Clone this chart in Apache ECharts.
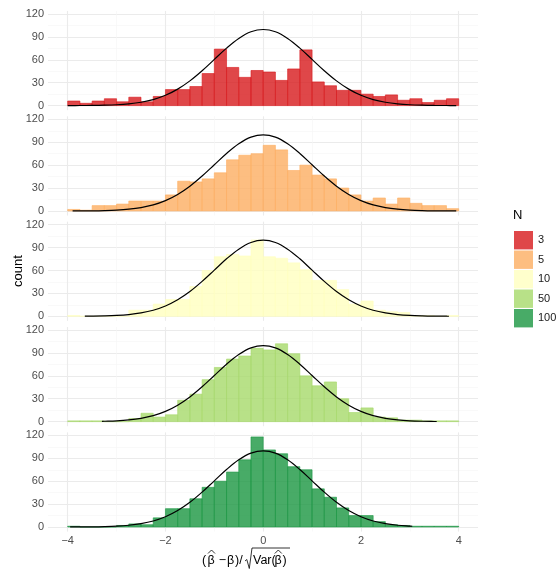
<!DOCTYPE html>
<html>
<head>
<meta charset="utf-8">
<script src="https://cdn.jsdelivr.net/npm/echarts@6/dist/echarts.min.js"></script>
<style>
  html, body { margin: 0; padding: 0; background: #fff; }
  #chart { width: 558px; height: 576px; }
</style>
</head>
<body>
<div id="chart"></div>
<script>
// bin edges of the histogram (width 0.25)
const binEdges = [-4, -3.75, -3.5, -3.25, -3, -2.75, -2.5, -2.25, -2, -1.75, -1.5, -1.25, -1, -0.75, -0.5, -0.25,
  0, 0.25, 0.5, 0.75, 1, 1.25, 1.5, 1.75, 2, 2.25, 2.5, 2.75, 3, 3.25, 3.5, 3.75, 4];

const groups = ['3', '5', '10', '50', '100'];

// counts per bin, one array per N
const countsN3 = [6, 3, 6, 9, 5, 11, 5, 12, 21, 21, 25, 42, 74, 50, 37, 46,
  44, 33, 48, 73, 31, 26, 20, 20, 15, 12, 14, 7, 9, 4, 7, 9];
const countsN5 = [2, 1, 7, 7, 9, 13, 13, 13, 21, 39, 38, 42, 50, 67, 73, 75,
  86, 80, 53, 60, 47, 42, 30, 21, 13, 17, 9, 17, 10, 7, 7, 3];
const countsN10 = [1, 0, 0, 0, 0, 8, 8, 16, 22, 22, 39, 60, 78, 81, 79, 100,
  78, 76, 70, 61, 47, 47, 35, 16, 20, 8, 6, 5, 1, 1, 0, 1];
const countsN50 = [1, 1, 1, 0, 0, 4, 11, 6, 9, 28, 36, 55, 71, 82, 86, 96,
  94, 102, 89, 60, 47, 52, 30, 12, 18, 6, 5, 2, 2, 1, 1, 1];
const countsN100 = [1, 0, 0, 0, 2, 4, 3, 12, 24, 24, 37, 52, 60, 72, 88, 118,
  101, 96, 79, 75, 50, 39, 25, 15, 15, 7, 3, 2, 1, 1, 1, 1];
const allCounts = [countsN3, countsN5, countsN10, countsN50, countsN100];

// reference normal curve, read at the bin edges
const curveY = [0.0, 0.1, 0.2, 0.5, 1.1, 2.3, 4.4, 7.9, 13.5, 21.6, 32.4, 45.7, 60.5, 75.3, 88.0, 96.7,
  99.7, 96.7, 88.0, 75.3, 60.5, 45.7, 32.4, 21.6, 13.5, 7.9, 4.4, 2.3, 1.1, 0.5, 0.2, 0.1, 0.0];
// where the curve starts and stops in each panel
const curveFrom = [-4, -3.9, -3.65, -3.3, -3.95];
const curveFromY = [0.0, 0.05, 0.13, 0.43, 0.04];
const curveTo = [3.95, 3.95, 3.8, 3.55, 3.05];
const curveToY = [0.04, 0.04, 0.07, 0.18, 0.95];

const yTicks = [0, 30, 60, 90, 120];
const xTicks = [-4, -2, 0, 2, 4];

const fills = ['rgba(215,25,28,0.8)', 'rgba(253,174,97,0.8)', 'rgba(255,255,191,0.8)', 'rgba(166,217,106,0.8)', 'rgba(26,150,65,0.8)'];
const strokes = ['#d7191c', '#fdae61', '#ffffbf', '#a6d96a', '#1a9641'];

const FONT = '"Liberation Sans", Arial, sans-serif';
const panelTop = 14;
const panelPitch = 105.35;
const panelH = 91.6;
const pxPerCount = panelH / 120;

const chart = echarts.init(document.getElementById('chart'));

const grid = [], xAxis = [], yAxis = [], series = [];

groups.forEach((name, i) => {
  const y120 = panelTop + i * panelPitch;
  // background grid: horizontal gridlines and y labels
  grid.push({ left: 48, top: y120, width: 430, height: panelH });
  // data grid: bars, curve, vertical gridlines
  grid.push({ left: 67.7, top: y120 - 4 * pxPerCount, width: 391, height: 130 * pxPerCount });

  xAxis.push({ gridIndex: 2 * i, type: 'value', min: 0, max: 1, show: false });
  yAxis.push({
    gridIndex: 2 * i, type: 'value', min: yTicks[0], max: yTicks[yTicks.length - 1], interval: 30,
    axisLine: { show: false }, axisTick: { show: false },
    axisLabel: { color: '#4d4d4d', fontSize: 11, fontFamily: FONT, margin: 4 },
    splitLine: { lineStyle: { color: '#ebebeb', width: 1.1 } },
    minorTick: { show: false, splitNumber: 2 },
    minorSplitLine: { show: true, lineStyle: { color: '#f5f5f5', width: 0.6 } }
  });

  xAxis.push({
    gridIndex: 2 * i + 1, type: 'value', min: xTicks[0], max: xTicks[xTicks.length - 1], interval: 2,
    axisLine: { show: false }, axisTick: { show: false },
    axisLabel: {
      show: i === groups.length - 1, color: '#4d4d4d', fontSize: 11, fontFamily: FONT, margin: 4,
      formatter: (v) => String(v).replace('-', '\u2212')
    },
    splitLine: { lineStyle: { color: '#ebebeb', width: 1.1 } },
    minorTick: { show: false, splitNumber: 2 },
    minorSplitLine: { show: true, lineStyle: { color: '#f5f5f5', width: 0.6 } }
  });
  yAxis.push({ gridIndex: 2 * i + 1, type: 'value', min: -6, max: 124, show: false });

  const fill = fills[i], stroke = strokes[i];
  series.push({
    name: name,
    type: 'custom',
    xAxisIndex: 2 * i + 1,
    yAxisIndex: 2 * i + 1,
    itemStyle: { color: fill },
    encode: { x: [0, 1], y: 2 },
    data: allCounts[i].map((c, k) => [binEdges[k], binEdges[k + 1], c]),
    renderItem: (params, api) => {
      const p0 = api.coord([api.value(0), 0]);
      const p1 = api.coord([api.value(1), api.value(2)]);
      return {
        type: 'rect',
        shape: { x: p0[0], y: p1[1], width: p1[0] - p0[0], height: p0[1] - p1[1] },
        style: { fill: fill, stroke: stroke, lineWidth: 0.6 }
      };
    },
    silent: true,
    z: 2
  });

  const pts = [[curveFrom[i], curveFromY[i]]];
  binEdges.forEach((x, k) => {
    if (x > curveFrom[i] && x < curveTo[i]) pts.push([x, curveY[k]]);
  });
  pts.push([curveTo[i], curveToY[i]]);
  series.push({
    type: 'line',
    xAxisIndex: 2 * i + 1,
    yAxisIndex: 2 * i + 1,
    data: pts,
    showSymbol: false,
    smooth: 0.35,
    lineStyle: { color: '#000', width: 1.2 },
    silent: true,
    z: 5
  });
});

// x-axis title pieces: (β̂ − β)/√Var(β̂)
function txt(s, x, align) {
  return {
    type: 'text', x: x, y: 561,
    style: { text: s, font: '12.5px ' + FONT, fill: '#000', textAlign: align || 'left', textVerticalAlign: 'middle' }
  };
}
function hat(cx) {
  return { type: 'polyline', shape: { points: [[cx - 3.5, 553.5], [cx, 550], [cx + 3.5, 553.5]] }, style: { stroke: '#000', lineWidth: 0.8, fill: null } };
}

chart.setOption({
  backgroundColor: '#fff',
  animation: false,
  grid, xAxis, yAxis, series,
  legend: {
    orient: 'vertical',
    left: 514,
    top: 231,
    padding: 0,
    itemWidth: 19,
    itemHeight: 18.4,
    itemGap: 1.1,
    selectedMode: false,
    icon: 'rect',
    data: groups,
    textStyle: { fontSize: 11, fontFamily: FONT, color: '#1a1a1a' }
  },
  graphic: [
    { type: 'text', left: 513, top: 209, style: { text: 'N', font: '13px ' + FONT, fill: '#000' } },
    {
      type: 'text', x: 18, y: 271, rotation: Math.PI / 2,
      style: { text: 'count', font: '13px ' + FONT, fill: '#000', textAlign: 'center', textVerticalAlign: 'middle' }
    },
    txt('(', 202),
    txt('\u03b2', 207.5),
    txt('\u2212', 222.5, 'center'),
    txt('\u03b2', 227),
    txt(')/', 235),
    txt('Var(', 253),
    txt('\u03b2', 274.5),
    txt(')', 282.5),
    hat(211.5),
    hat(278.3),
    {
      type: 'polyline',
      shape: { points: [[245, 561], [246.8, 559.5], [249.3, 568.5], [252, 548], [290, 548]] },
      style: { stroke: '#000', lineWidth: 0.8, fill: null }
    }
  ]
});
</script>
</body>
</html>
